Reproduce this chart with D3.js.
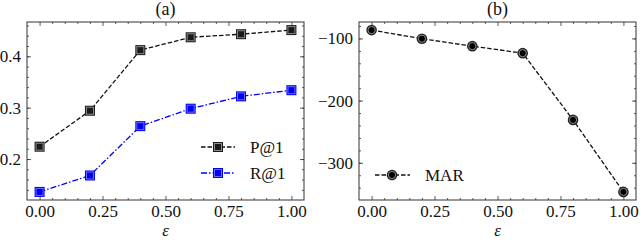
<!DOCTYPE html>
<html>
<head>
<meta charset="utf-8">
<script src="https://cdn.jsdelivr.net/npm/d3@7"></script>
<style>
  body { margin: 0; background: #fff; }
  svg { display: block; }
</style>
</head>
<body>
<script>
const eps = [0, 0.2, 0.4, 0.6, 0.8, 1.0];
const p1 = [0.224, 0.294, 0.412, 0.437, 0.443, 0.451];
const r1 = [0.136, 0.168, 0.264, 0.298, 0.322, 0.334];
const mar = [-86.6, -100.5, -112.4, -123.7, -231, -346.8];
const xTicks = [0, 0.25, 0.5, 0.75, 1.0];
const yTicksA = [0.2, 0.3, 0.4];
const yTicksB = [-300, -200, -100];

const W = 640, H = 241;
const FONT = "'Liberation Serif', 'DejaVu Serif', serif";
const svg = d3.select('body').append('svg').attr('width', W).attr('height', H)
  .style('font-family', FONT);

// matplotlib-ish 5% padding around the data
function padded(vals) {
  const [lo, hi] = d3.extent(vals);
  const m = (hi - lo) * 0.05;
  return [lo - m, hi + m];
}

function range(a, b, step) {
  const out = [];
  for (let v = a; v <= b + 1e-9; v += step) out.push(+v.toFixed(6));
  return out;
}

// axis with inward ticks, restyled after d3 draws it
function addAxis(g, axis, tx, ty) {
  const ax = g.append('g').attr('transform', `translate(${tx},${ty})`).call(axis);
  ax.select('.domain').remove();
  ax.selectAll('line').attr('stroke', '#333').attr('stroke-width', 0.8);
  ax.selectAll('text')
    .style('font-family', FONT)
    .style('font-size', '17px')
    .style('fill', '#111');
  return ax;
}

function panel({ left, right, top, bottom, yDomain, yTicks, yMinor, yFmt, title }) {
  const x = d3.scaleLinear().domain([-0.05, 1.05]).range([left, right]);
  const y = d3.scaleLinear().domain(yDomain).range([bottom, top]);
  const g = svg.append('g');

  const xMinor = range(0, 1, 0.05).filter(v => xTicks.indexOf(v) < 0);
  const yMin = yMinor.filter(v => y(v) >= top + 0.5 && y(v) <= bottom - 0.5);

  // major ticks
  addAxis(g, d3.axisBottom(x).tickValues(xTicks).tickSize(-4).tickPadding(5).tickFormat(d3.format('.2f')), 0, bottom);
  addAxis(g, d3.axisTop(x).tickValues(xTicks).tickSize(-4).tickFormat(''), 0, top);
  addAxis(g, d3.axisLeft(y).tickValues(yTicks).tickSize(-4).tickPadding(6).tickFormat(yFmt), left, 0);
  addAxis(g, d3.axisRight(y).tickValues(yTicks).tickSize(-4).tickFormat(''), right, 0);

  // minor ticks
  addAxis(g, d3.axisBottom(x).tickValues(xMinor).tickSize(-2).tickFormat(''), 0, bottom);
  addAxis(g, d3.axisTop(x).tickValues(xMinor).tickSize(-2).tickFormat(''), 0, top);
  addAxis(g, d3.axisLeft(y).tickValues(yMin).tickSize(-2).tickFormat(''), left, 0);
  addAxis(g, d3.axisRight(y).tickValues(yMin).tickSize(-2).tickFormat(''), right, 0);

  g.append('rect')
    .attr('x', left).attr('y', top)
    .attr('width', right - left).attr('height', bottom - top)
    .attr('fill', 'none').attr('stroke', '#333').attr('stroke-width', 1);

  g.append('text').attr('x', (left + right) / 2).attr('y', 15)
    .attr('text-anchor', 'middle').attr('font-size', 18).attr('fill', '#111').text(title);
  g.append('text').attr('x', (left + right) / 2).attr('y', 236)
    .attr('text-anchor', 'middle').attr('font-size', 17).attr('font-style', 'italic')
    .attr('fill', '#111').text('ε');

  return { g, x, y };
}

function square(g, cx, cy, dark, ring) {
  g.append('rect').attr('x', cx - 5).attr('y', cy - 5).attr('width', 10).attr('height', 10)
    .attr('fill', dark);
  g.append('rect').attr('x', cx - 3.5).attr('y', cy - 3.5).attr('width', 7).attr('height', 7)
    .attr('fill', dark).attr('stroke', ring).attr('stroke-width', 1);
}

function dot(g, cx, cy) {
  g.append('circle').attr('cx', cx).attr('cy', cy).attr('r', 5.3).attr('fill', '#222');
  g.append('circle').attr('cx', cx).attr('cy', cy).attr('r', 3.6)
    .attr('fill', '#000').attr('stroke', '#9a9a9a').attr('stroke-width', 0.9);
}

// (a)
const a = panel({
  left: 27, right: 304, top: 22, bottom: 200,
  yDomain: padded(p1.concat(r1)), yTicks: yTicksA, yMinor: range(0.1, 0.5, 0.02),
  yFmt: d3.format('.1f'), title: '(a)'
});

const line = (sx, sy) => d3.line().x((d, i) => sx(eps[i])).y(d => sy(d));

a.g.append('path').datum(p1).attr('d', line(a.x, a.y))
  .attr('fill', 'none').attr('stroke', '#111').attr('stroke-width', 1.3)
  .attr('stroke-dasharray', '4.5,2');
a.g.append('path').datum(r1).attr('d', line(a.x, a.y))
  .attr('fill', 'none').attr('stroke', '#0000ff').attr('stroke-width', 1.3)
  .attr('stroke-dasharray', '6,2,1.5,2');
p1.forEach((v, i) => square(a.g, a.x(eps[i]), a.y(v), '#1a1a1a', '#8c8c8c'));
r1.forEach((v, i) => square(a.g, a.x(eps[i]), a.y(v), '#0000f0', '#6a6aff'));

// legend (a)
const legA = [
  { label: 'P@1', color: '#111', dash: '4.5,2', dark: '#1a1a1a', ring: '#8c8c8c', y: 147 },
  { label: 'R@1', color: '#0000ff', dash: '6,2,1.5,2', dark: '#0000f0', ring: '#6a6aff', y: 173 }
];
legA.forEach(d => {
  a.g.append('line').attr('x1', 201).attr('x2', 235).attr('y1', d.y).attr('y2', d.y)
    .attr('stroke', d.color).attr('stroke-width', 1.3).attr('stroke-dasharray', d.dash);
  square(a.g, 218, d.y, d.dark, d.ring);
  a.g.append('text').attr('x', 250).attr('y', d.y + 6).attr('font-size', 17)
    .attr('fill', '#111').text(d.label);
});

// (b)
const b = panel({
  left: 359, right: 636, top: 22, bottom: 200,
  yDomain: padded(mar), yTicks: yTicksB, yMinor: range(-400, 0, 20),
  yFmt: d => d3.format('d')(d).replace('-', '−'), title: '(b)'
});

b.g.append('path').datum(mar).attr('d', line(b.x, b.y))
  .attr('fill', 'none').attr('stroke', '#111').attr('stroke-width', 1.3)
  .attr('stroke-dasharray', '4.5,2');
mar.forEach((v, i) => dot(b.g, b.x(eps[i]), b.y(v)));

b.g.append('line').attr('x1', 375).attr('x2', 410).attr('y1', 175).attr('y2', 175)
  .attr('stroke', '#111').attr('stroke-width', 1.3).attr('stroke-dasharray', '4.5,2');
dot(b.g, 392, 175);
b.g.append('text').attr('x', 425).attr('y', 181).attr('font-size', 17)
  .attr('fill', '#111').text('MAR');
</script>
</body>
</html>
